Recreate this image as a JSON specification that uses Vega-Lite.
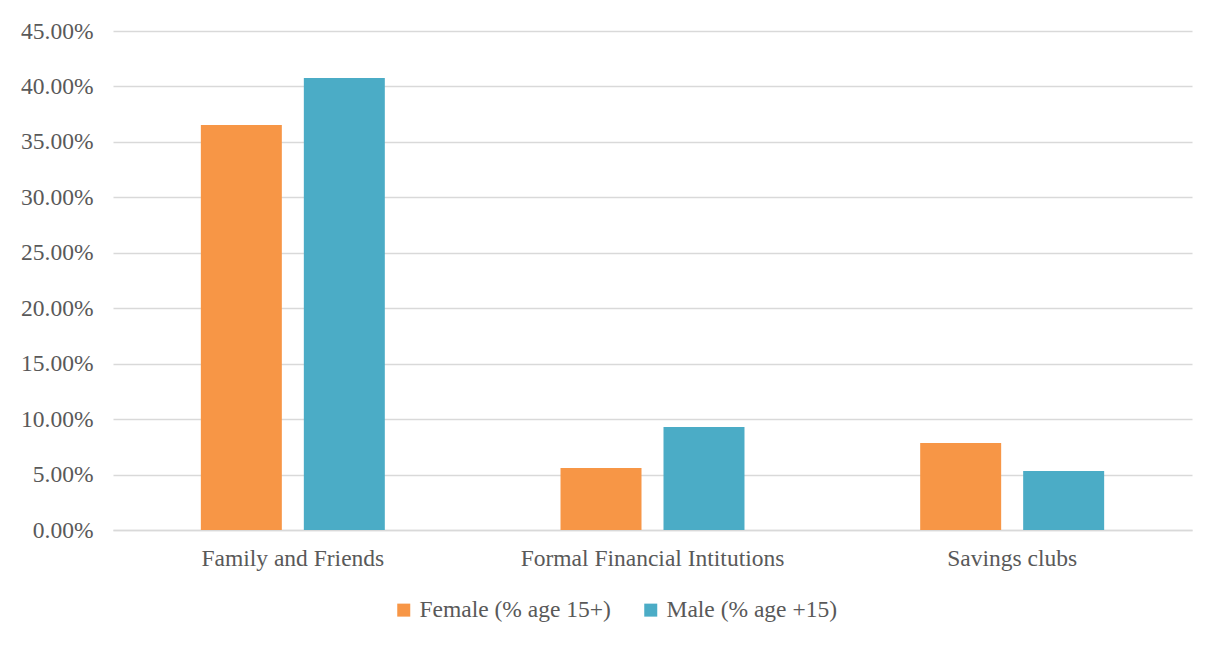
{
  "$schema": "https://vega.github.io/schema/vega-lite/v6.json",
  "width": 1079,
  "height": 499,
  "autosize": {"type": "none"},
  "padding": {"left": 113, "top": 31, "right": 28, "bottom": 115},
  "background": "white",
  "config": {
    "view": {"stroke": null},
    "font": "Liberation Serif"
  },
  "data": {
    "values": [
      {"source": "Family and Friends", "group": "Female (% age 15+)", "value": 0.3652},
      {"source": "Family and Friends", "group": "Male (% age +15)", "value": 0.4076},
      {"source": "Formal Financial Intitutions", "group": "Female (% age 15+)", "value": 0.0559},
      {"source": "Formal Financial Intitutions", "group": "Male (% age +15)", "value": 0.0929},
      {"source": "Savings clubs", "group": "Female (% age 15+)", "value": 0.0785},
      {"source": "Savings clubs", "group": "Male (% age +15)", "value": 0.0532}
    ]
  },
  "mark": {"type": "bar"},
  "encoding": {
    "x": {
      "field": "source",
      "type": "nominal",
      "sort": null,
      "scale": {"paddingInner": 0, "paddingOuter": 0},
      "axis": {
        "title": null,
        "labelAngle": 0,
        "labelLimit": 0,
        "labelFont": "Liberation Serif",
        "labelFontSize": 23.5,
        "labelColor": "#595959",
        "labelPadding": 16,
        "ticks": false,
        "domainColor": "#d9d9d9",
        "domainWidth": 1.5
      }
    },
    "xOffset": {
      "field": "group",
      "type": "nominal",
      "sort": null,
      "scale": {"paddingInner": 0.2136, "paddingOuter": 0.853}
    },
    "y": {
      "field": "value",
      "type": "quantitative",
      "scale": {"domain": [0, 0.45], "nice": false},
      "axis": {
        "title": null,
        "format": ".2%",
        "values": [0, 0.05, 0.1, 0.15, 0.2, 0.25, 0.3, 0.35, 0.4, 0.45],
        "labelFont": "Liberation Serif",
        "labelFontSize": 23.5,
        "labelColor": "#595959",
        "labelPadding": 20,
        "ticks": false,
        "domain": false,
        "gridColor": "#d9d9d9",
        "gridWidth": 1.5
      }
    },
    "color": {
      "field": "group",
      "type": "nominal",
      "sort": null,
      "scale": {"range": ["#F79646", "#4BACC6"]},
      "legend": {
        "title": null,
        "orient": "none",
        "legendX": 279,
        "legendY": 567,
        "direction": "horizontal",
        "symbolType": "square",
        "symbolSize": 169,
        "symbolStrokeWidth": 0,
        "labelFont": "Liberation Serif",
        "labelFontSize": 23.5,
        "labelLimit": 0,
        "labelColor": "#595959",
        "labelOffset": 4,
        "columnPadding": 28
      }
    }
  }
}
